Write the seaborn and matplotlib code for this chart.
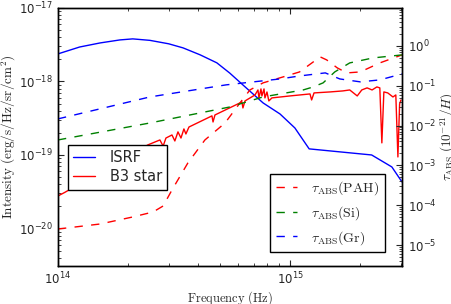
import matplotlib
matplotlib.use('Agg')
import matplotlib.pyplot as plt
import matplotlib.ticker as mticker
import seaborn as sns

# ISRF intensity (erg/s/Hz/sr/cm^2)
isrf_freq = [1.00e14, 1.24e14, 1.52e14, 1.85e14, 2.10e14, 2.49e14, 3.00e14, 3.46e14, 4.10e14,
             4.84e14, 5.50e14, 6.27e14, 7.66e14, 9.06e14, 1.05e15, 1.21e15, 2.25e15,
             2.75e15, 3.04e15]
isrf_int = [2.37e-18, 2.94e-18, 3.34e-18, 3.67e-18, 3.79e-18, 3.62e-18, 3.25e-18, 2.86e-18,
            2.30e-18, 1.79e-18, 1.30e-18, 8.96e-19, 5.10e-19, 3.61e-19, 2.33e-19, 1.21e-19,
            1.00e-19, 6.87e-20, 4.30e-20]

# B3 star spectrum
star_freq = [1.00e14, 1.07e14, 2.44e14, 2.75e14, 2.84e14, 2.92e14, 3.10e14, 3.19e14,
             3.29e14, 3.39e14, 3.49e14, 3.56e14, 3.67e14, 4.61e14, 4.66e14, 4.75e14,
             6.21e14, 6.27e14, 6.40e14, 7.07e14, 7.28e14, 7.35e14, 7.50e14, 7.57e14,
             7.73e14, 7.80e14, 7.96e14, 8.11e14, 8.36e14, 1.00e15, 1.22e15, 1.24e15,
             1.27e15, 1.49e15, 1.69e15, 1.81e15, 1.95e15, 2.04e15, 2.15e15, 2.26e15,
             2.37e15, 2.44e15, 2.49e15, 2.54e15, 2.64e15, 2.78e15, 2.86e15, 2.92e15,
             2.97e15, 3.01e15]
star_int = [2.77e-20, 3.10e-20, 1.37e-19, 1.60e-19, 1.32e-19, 1.70e-19, 1.87e-19, 1.55e-19,
            2.06e-19, 1.70e-19, 2.26e-19, 1.93e-19, 2.40e-19, 3.40e-19, 2.81e-19, 3.50e-19,
            5.26e-19, 4.36e-19, 5.43e-19, 6.55e-19, 7.66e-19, 5.97e-19, 7.91e-19, 6.35e-19,
            7.91e-19, 5.97e-19, 7.19e-19, 5.43e-19, 5.97e-19, 6.35e-19, 6.76e-19, 5.60e-19,
            6.98e-19, 7.20e-19, 7.43e-19, 7.66e-19, 6.35e-19, 7.66e-19, 8.17e-19, 7.66e-19,
            8.42e-19, 8.17e-19, 1.46e-19, 7.20e-19, 6.98e-19, 6.15e-19, 6.55e-19, 9.40e-20,
            4.94e-19, 5.60e-19]

# absorption optical depths (10^-21 / H)
pah_freq = [1.00e14, 1.52e14, 2.10e14, 2.57e14, 2.84e14, 3.10e14, 3.63e14, 4.30e14,
            5.25e14, 6.09e14, 6.72e14, 7.66e14, 9.33e14, 1.10e15, 1.35e15, 1.44e15,
            1.60e15, 1.76e15, 2.01e15, 2.44e15, 3.04e15]
pah_tau = [2.52e-5, 3.37e-5, 5.06e-5, 6.75e-5, 9.55e-5, 2.41e-4, 1.15e-3, 4.35e-3,
           1.16e-2, 3.70e-2, 7.83e-2, 0.118, 0.166, 0.222, 0.530, 0.445,
           0.280, 0.210, 0.222, 0.374, 0.594]

si_freq = [1.00e14, 2.49e14, 5.51e14, 7.66e14, 1.14e15, 1.26e15, 1.39e15, 1.56e15,
           1.81e15, 2.28e15, 3.04e15]
si_tau = [4.35e-3, 1.16e-2, 2.93e-2, 5.23e-2, 7.83e-2, 9.33e-2, 0.118, 0.222,
          0.374, 0.499, 0.594]

gr_freq = [1.00e14, 2.49e14, 5.30e14, 9.06e14, 1.10e15, 1.42e15, 1.64e15, 2.01e15,
           2.44e15, 3.04e15]
gr_tau = [1.47e-2, 5.23e-2, 0.105, 0.148, 0.176, 0.210, 0.148, 0.125, 0.140, 0.198]

sns.set_style('ticks')
plt.rcParams['font.family'] = ['DejaVu Sans']
plt.rcParams['mathtext.fontset'] = 'cm'
plt.rcParams['axes.edgecolor'] = 'black'
plt.rcParams['axes.linewidth'] = 1.0

fig = plt.figure(figsize=(4.52, 3.04), dpi=100)
ax = fig.add_axes([0.1283, 0.125, 0.761, 0.849])
ax2 = ax.twinx()

sns.lineplot(x=isrf_freq, y=isrf_int, ax=ax, color='#0000ff', lw=1, label='ISRF', estimator=None)
sns.lineplot(x=star_freq, y=star_int, ax=ax, color='#ff0000', lw=1, label='B3 star', estimator=None)

dash = (0, (6, 6))
sns.lineplot(x=pah_freq, y=pah_tau, ax=ax2, color='#ff0000', lw=1, linestyle=dash,
             label=r'$\tau_{\rm ABS}(\rm PAH)$', estimator=None)
sns.lineplot(x=si_freq, y=si_tau, ax=ax2, color='#008000', lw=1, linestyle=dash,
             label=r'$\tau_{\rm ABS}(\rm Si)$', estimator=None)
sns.lineplot(x=gr_freq, y=gr_tau, ax=ax2, color='#0000ff', lw=1, linestyle=dash,
             label=r'$\tau_{\rm ABS}(\rm Gr)$', estimator=None)

for a in (ax, ax2):
    a.set_xscale('log')
    a.set_yscale('log')
    a.set_xlim(1e14, 3.04e15)
ax.set_ylim(3.09e-21, 1e-17)
ax2.set_ylim(2.97e-6, 9.0)

ax.xaxis.set_minor_formatter(mticker.NullFormatter())
ax.yaxis.set_minor_formatter(mticker.NullFormatter())
ax2.yaxis.set_minor_formatter(mticker.NullFormatter())

ax.tick_params(which='both', direction='in', top=True, right=False, labelsize=8.5)
ax.tick_params(which='major', length=4, width=0.8)
ax.tick_params(which='minor', length=2, width=0.6)
ax.tick_params(axis='x', which='major', pad=3.5)
ax2.tick_params(which='both', direction='in', labelsize=8.5)
ax2.tick_params(which='major', length=4, width=0.8, pad=4)
ax2.tick_params(which='minor', length=2, width=0.6)

ax.set_xlabel(r'$\mathrm{Frequency\ (Hz)}$', fontsize=9, labelpad=1)
ax.set_ylabel(r'$\mathrm{Intensity\ (erg/s/Hz/sr/cm^2)}$', fontsize=9.5, labelpad=1)
ax2.set_ylabel(r'$\tau_{\rm ABS}\ (10^{-21}/H)$', fontsize=9.5, labelpad=2)

leg1 = ax.legend(loc='upper left', bbox_to_anchor=(0.029, 0.469), borderaxespad=0,
                 fontsize=10.5, handlelength=1.5, handletextpad=1.0, labelspacing=0.3,
                 borderpad=0.35, fancybox=False, framealpha=1, edgecolor='black')
leg1.get_frame().set_linewidth(1.0)
leg2 = ax2.legend(loc='lower right', bbox_to_anchor=(0.951, 0.054), borderaxespad=0,
                  fontsize=10, handlelength=1.55, handletextpad=1.0, fancybox=False,
                  framealpha=1, edgecolor='black')
leg2.get_frame().set_linewidth(1.0)

fig.savefig('out.png', dpi=100)
